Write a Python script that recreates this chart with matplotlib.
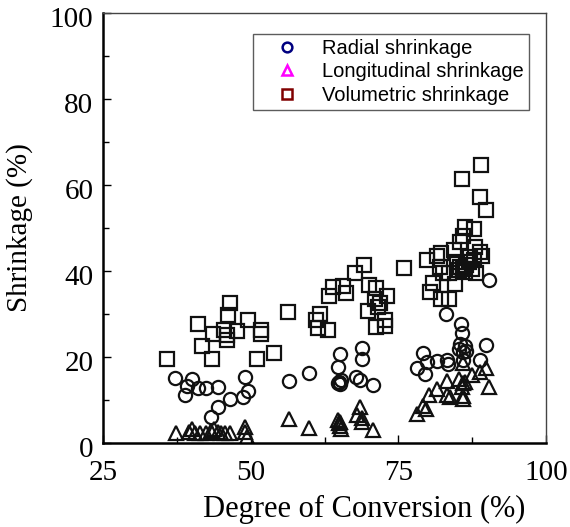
import matplotlib
matplotlib.use("Agg")
import matplotlib.pyplot as plt
from matplotlib.lines import Line2D
from matplotlib.ticker import MultipleLocator
from matplotlib.transforms import ScaledTranslation

# Radial shrinkage (circles)
radial_x = [37.2, 40.0, 39.2, 41.1, 42.5, 44.5, 38.9, 49.1, 49.6, 48.7, 46.5, 44.5, 43.2,
            56.5, 59.9, 65.1, 64.8, 64.8, 65.0, 65.3, 65.1, 68.9, 68.8, 67.9, 68.5, 70.7,
            83.1, 85.6, 85.7, 85.5, 86.2, 85.3, 86.5, 85.9, 89.8, 79.1, 79.8, 78.1, 79.5,
            81.6, 83.3, 83.4, 85.9, 88.8, 90.4]
radial_y = [15.2, 14.9, 13.3, 12.9, 12.7, 13.0, 11.1, 15.4, 12.1, 10.6, 10.3, 8.4, 6.1,
            14.5, 16.3, 20.6, 17.7, 14.0, 14.3, 14.7, 13.8, 22.2, 19.5, 15.4, 14.7, 13.5,
            30.0, 27.7, 25.6, 23.0, 22.5, 21.8, 21.4, 21.2, 22.8, 20.9, 18.9, 17.4, 16.0,
            19.1, 19.3, 18.4, 19.3, 19.3, 37.9]

# Longitudinal shrinkage (triangles)
long_x = [37.4, 39.5, 40.0, 40.5, 41.5, 42.5, 43.2, 43.8, 44.5, 45.0, 45.6, 46.5, 49.0, 49.1, 49.3,
          56.5, 59.9, 64.8, 65.0, 65.2, 65.3, 65.1, 68.5, 68.0, 68.8, 68.9, 70.7,
          86.0, 89.9, 88.8, 87.4, 83.3, 85.3, 86.0, 85.7, 86.3, 90.4, 81.6, 80.1, 83.3, 83.7,
          85.9, 86.0, 79.2, 79.7, 78.2]
long_y = [2.4, 2.6, 3.3, 2.4, 2.3, 2.3, 2.8, 3.3, 2.6, 2.4, 2.4, 2.4, 3.8, 2.6, 1.5,
          5.5, 3.4, 5.3, 4.6, 4.0, 3.3, 4.9, 8.4, 6.5, 5.7, 4.9, 3.0,
          18.5, 17.5, 16.4, 15.8, 14.5, 14.8, 14.0, 13.0, 14.3, 13.1, 12.5, 11.2, 11.2, 10.8,
          10.9, 10.2, 8.6, 7.8, 6.7]

# Volumetric shrinkage (squares)
vol_x = [35.8, 41.1, 46.5, 46.2, 49.6, 43.6, 41.7, 43.4, 45.4, 46.0, 46.0, 47.7, 51.7, 51.7,
         51.1, 53.9,
         56.4, 69.1, 67.6, 75.9, 64.0, 63.2, 65.7, 66.1, 70.1, 71.2, 73.0, 71.0, 71.9, 71.6,
         69.9, 61.7, 61.0, 61.4, 63.1, 72.7, 72.8, 71.2,
         89.0, 85.7, 88.8, 89.8, 86.3, 87.8, 86.0, 85.5, 88.0, 88.8, 89.1, 84.4, 82.3, 81.6,
         79.9, 82.0, 82.6, 83.6, 85.0, 85.5, 86.0, 86.5, 87.0, 87.5, 86.2, 85.2, 88.1, 87.1,
         87.8, 80.9, 80.3, 84.6, 82.3, 83.6]
vol_y = [19.5, 27.6, 32.6, 29.8, 28.6, 25.3, 22.6, 19.6, 26.3, 25.1, 24.0, 26.1, 26.3, 25.3,
         19.5, 21.0,
         30.5, 41.4, 39.6, 40.6, 36.2, 34.3, 36.5, 34.8, 36.7, 36.0, 34.2, 33.6, 32.6, 31.6,
         30.7, 30.0, 28.6, 26.7, 26.3, 28.6, 27.2, 26.9,
         64.7, 61.3, 57.3, 54.3, 50.2, 49.8, 48.1, 46.8, 45.6, 44.5, 43.5, 44.9, 44.1, 43.5,
         42.6, 41.0, 39.6, 39.5, 42.0, 41.0, 40.5, 41.5, 42.0, 40.5, 39.8, 40.2, 39.5, 43.3,
         42.6, 37.1, 35.2, 37.0, 33.6, 33.6]

series_labels = ["Radial shrinkage", "Longitudinal shrinkage", "Volumetric shrinkage"]
legend_colors = ["#000080", "#ff00ff", "#800000"]

serif = ["Liberation Serif", "DejaVu Serif"]
sans = ["Liberation Sans", "DejaVu Sans"]

fig = plt.figure(figsize=(5.70, 5.27), dpi=100)
ax = fig.add_axes([0.1807, 0.1594, 0.7773, 0.8159])

mk = dict(linestyle="none", markerfacecolor="none", markeredgecolor="#111111",
          markeredgewidth=1.6)
ax.plot(vol_x, vol_y, marker="s", markersize=9.5, **mk)
ax.plot(radial_x, radial_y, marker="o", markersize=9.5, **mk)
ax.plot(long_x, long_y, marker="^", markersize=9.5, **mk)

ax.set_xlim(25, 100)
ax.set_ylim(0, 100)
ax.xaxis.set_major_locator(MultipleLocator(25))
ax.xaxis.set_minor_locator(MultipleLocator(12.5))
ax.yaxis.set_major_locator(MultipleLocator(20))
ax.yaxis.set_minor_locator(MultipleLocator(10))
ax.tick_params(which="both", direction="in", top=False, right=False, width=1.0)
ax.tick_params(which="major", length=6, labelsize=21)
ax.tick_params(axis="x", which="major", pad=12)
ax.tick_params(axis="y", which="major", pad=7)
ax.tick_params(which="minor", length=4)
shift = ScaledTranslation(0, -4 / 100, fig.dpi_scale_trans)
for lab in ax.get_xticklabels():
    lab.set_family(serif)
for lab in ax.get_yticklabels():
    lab.set_family(serif)
    lab.set_transform(lab.get_transform() + shift)

for s in ["left", "bottom"]:
    ax.spines[s].set_linewidth(1.8)
    ax.spines[s].set_color("black")
for s in ["top", "right"]:
    ax.spines[s].set_linewidth(1.0)
    ax.spines[s].set_color("#444444")

ax.set_xlabel("Degree of Conversion (%)", family=serif, fontsize=22)
ax.xaxis.set_label_coords(0.589, -0.14, transform=ax.transAxes)
ax.xaxis.label.set_va("bottom")
ax.xaxis.label.set_position((0.589, -0.188))
ax.set_ylabel("Shrinkage (%)", family=serif, fontsize=21, labelpad=12)

handles = [
    Line2D([], [], linestyle="none", marker="o", markersize=7, markerfacecolor="none",
           markeredgecolor=legend_colors[0], markeredgewidth=1.8),
    Line2D([], [], linestyle="none", marker="^", markersize=7, markerfacecolor="none",
           markeredgecolor=legend_colors[1], markeredgewidth=1.8),
    Line2D([], [], linestyle="none", marker="s", markersize=7, markerfacecolor="none",
           markeredgecolor=legend_colors[2], markeredgewidth=1.8),
]
leg = ax.legend(handles, series_labels, loc="upper left",
                bbox_to_anchor=((253 - 103) / 443, (443 - 34) / 430),
                prop={"family": sans, "size": 14.5}, frameon=True, fancybox=False,
                edgecolor="#333333", borderpad=0.25, labelspacing=0.22,
                handletextpad=0.3, handlelength=2.9, borderaxespad=0.0)
leg.get_frame().set_linewidth(1.0)

fig.savefig("out.png", dpi=100)
